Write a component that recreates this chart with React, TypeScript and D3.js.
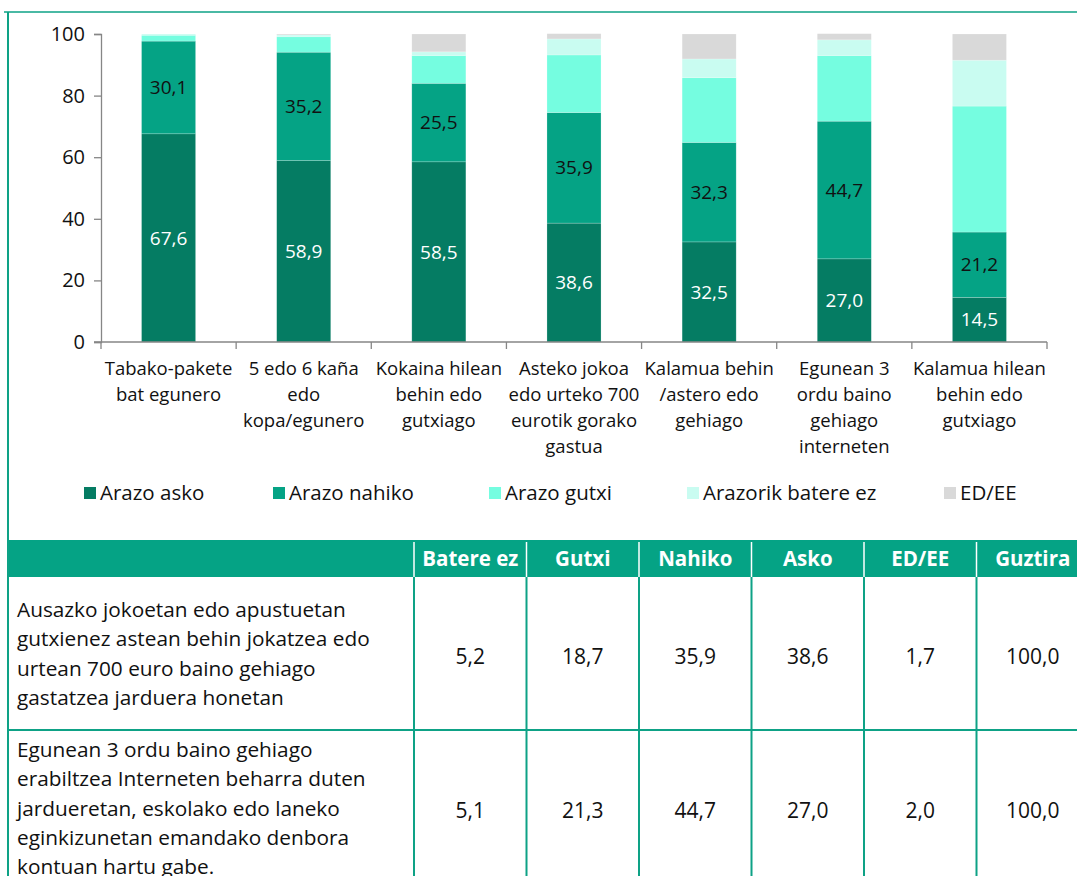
import * as d3 from 'd3';
import { useEffect, useRef } from 'react';

// Chart data
const categories = [
  ['Tabako-pakete', 'bat egunero'],
  ['5 edo 6 kaña', 'edo', 'kopa/egunero'],
  ['Kokaina hilean', 'behin edo', 'gutxiago'],
  ['Asteko jokoa', 'edo urteko 700', 'eurotik gorako', 'gastua'],
  ['Kalamua behin', '/astero edo', 'gehiago'],
  ['Egunean 3', 'ordu baino', 'gehiago', 'interneten'],
  ['Kalamua hilean', 'behin edo', 'gutxiago'],
];
const arazoAsko = [67.6, 58.9, 58.5, 38.6, 32.5, 27.0, 14.5];
const arazoNahiko = [30.1, 35.2, 25.5, 35.9, 32.3, 44.7, 21.2];
const arazoGutxi = [1.9, 5.0, 9.0, 18.7, 21.0, 21.3, 40.9];
const arazorikBatereEz = [0.4, 0.6, 1.2, 5.2, 6.1, 5.1, 14.9];
const edEe = [0.0, 0.3, 5.8, 1.7, 8.1, 2.0, 8.5];
const seriesNames = ['Arazo asko', 'Arazo nahiko', 'Arazo gutxi', 'Arazorik batere ez', 'ED/EE'];
const yTicks = [0, 20, 40, 60, 80, 100];

// Table data
const tableHeaders = ['Batere ez', 'Gutxi', 'Nahiko', 'Asko', 'ED/EE', 'Guztira'];
const tableRowLabels = [
  ['Ausazko jokoetan edo apustuetan', 'gutxienez astean behin jokatzea edo', 'urtean 700 euro baino gehiago', 'gastatzea jarduera honetan'],
  ['Egunean 3 ordu baino gehiago', 'erabiltzea Interneten beharra duten', 'jardueretan, eskolako edo laneko', 'eginkizunetan emandako denbora', 'kontuan hartu gabe.'],
];
const tableGambling = [5.2, 18.7, 35.9, 38.6, 1.7, 100.0];
const tableInternet = [5.1, 21.3, 44.7, 27.0, 2.0, 100.0];

const colors = ['#057c63', '#05a385', '#75fde0', '#c9fcf1', '#d9d9d9'];
const teal = '#0ea286';
const FONT = '"Open Sans", Lato, sans-serif';

export default function App() {
  const svgCur = useRef(null);

  useEffect(() => {
    if (!svgCur.current) return;
    const width = 1077;
    const height = 876;
    const svg = d3.select(svgCur.current).attr('width', width).attr('height', height);
    svg.selectAll('*').remove();

    const fmt = (v: number) => d3.format('.1f')(v).replace('.', ',');

    // frame
    svg.append('line').attr('x1', 4).attr('x2', width).attr('y1', 12).attr('y2', 12)
      .attr('stroke', teal).attr('stroke-width', 1.5);
    svg.append('line').attr('x1', 8).attr('x2', 8).attr('y1', 12).attr('y2', height)
      .attr('stroke', teal).attr('stroke-width', 2);

    // scales
    const x = d3.scaleBand().domain(d3.range(categories.length).map(String))
      .range([101, 1047]).paddingInner(0.6).paddingOuter(0.3);
    const y = d3.scaleLinear().domain([0, 100]).range([342, 34]);

    const rows = categories.map((_, i) => ({
      i: String(i),
      s0: arazoAsko[i], s1: arazoNahiko[i], s2: arazoGutxi[i], s3: arazorikBatereEz[i], s4: edEe[i],
    }));
    const stacked = d3.stack().keys(['s0', 's1', 's2', 's3', 's4'])(rows as any);

    const g = svg.append('g');
    stacked.forEach((layer, k) => {
      g.append('g').selectAll('rect').data(layer).join('rect')
        .attr('x', (d: any) => x(d.data.i))
        .attr('width', x.bandwidth())
        .attr('y', (d: any) => y(d[1]))
        .attr('height', (d: any) => Math.max(0, y(d[0]) - y(d[1])))
        .attr('fill', colors[k])
        .attr('stroke', '#ffffff').attr('stroke-opacity', 0.35).attr('stroke-width', 0.6);
    });

    // value labels on the two darkest segments
    [0, 1].forEach((k) => {
      g.append('g').selectAll('text').data(stacked[k]).join('text')
        .attr('x', (d: any) => x(d.data.i) + x.bandwidth() / 2)
        .attr('y', (d: any) => y((d[0] + d[1]) / 2))
        .attr('dy', '0.35em')
        .attr('text-anchor', 'middle')
        .attr('font-family', FONT).attr('font-size', 19)
        .attr('fill', k === 0 ? '#ffffff' : '#111111')
        .text((d: any) => fmt(d[1] - d[0]));
    });

    // y axis
    const yAxis = d3.axisLeft(y).tickValues(yTicks).tickSize(7).tickPadding(9).tickFormat(d3.format('d'));
    svg.append('g').attr('transform', 'translate(101,0)').call(yAxis)
      .call((a) => a.select('.domain').attr('stroke', '#868686').attr('stroke-width', 1.3))
      .call((a) => a.selectAll('line').attr('stroke', '#868686').attr('stroke-width', 1.3))
      .call((a) => a.selectAll('text').attr('font-family', FONT).attr('font-size', 20).attr('fill', '#111'));

    // x axis line and boundary ticks
    const xAxisG = svg.append('g');
    xAxisG.append('line').attr('x1', 94).attr('x2', 1047).attr('y1', 342).attr('y2', 342)
      .attr('stroke', '#868686').attr('stroke-width', 1.3);
    const step = x.step();
    xAxisG.selectAll('.tk').data(d3.range(categories.length + 1)).join('line')
      .attr('x1', (d) => 101 + d * step).attr('x2', (d) => 101 + d * step)
      .attr('y1', 342).attr('y2', 349)
      .attr('stroke', '#868686').attr('stroke-width', 1.3);

    // category labels
    categories.forEach((lines, i) => {
      const t = svg.append('text').attr('text-anchor', 'middle')
        .attr('font-family', FONT).attr('font-size', 18.5).attr('fill', '#111');
      lines.forEach((ln, j) => {
        t.append('tspan').attr('x', x(String(i)) + x.bandwidth() / 2)
          .attr('y', 375 + j * 26).text(ln);
      });
    });

    // legend
    const legendX = [84, 273, 489, 687, 944];
    seriesNames.forEach((name, k) => {
      svg.append('rect').attr('x', legendX[k]).attr('y', 487).attr('width', 12).attr('height', 12)
        .attr('fill', colors[k]);
      svg.append('text').attr('x', legendX[k] + 16).attr('y', 493).attr('dy', '0.35em')
        .attr('font-family', FONT).attr('font-size', 20.5).attr('fill', '#111').text(name);
    });

    // table
    const colX = d3.scaleBand().domain(tableHeaders).range([414, 1089]);
    const headerTop = 540;
    const headerBottom = 577;
    const rowBottom = 730;
    svg.append('rect').attr('x', 9).attr('y', headerTop).attr('width', width - 9)
      .attr('height', headerBottom - headerTop).attr('fill', '#05a385');
    tableHeaders.forEach((h) => {
      svg.append('line').attr('x1', colX(h)).attr('x2', colX(h)).attr('y1', headerTop + 2).attr('y2', headerBottom)
        .attr('stroke', '#ffffff').attr('stroke-width', 1.5);
      svg.append('text').attr('x', colX(h) + colX.bandwidth() / 2).attr('y', (headerTop + headerBottom) / 2)
        .attr('dy', '0.35em').attr('text-anchor', 'middle')
        .attr('font-family', FONT).attr('font-size', 20.5).attr('font-weight', 'bold')
        .attr('fill', '#ffffff').text(h);
    });

    // body grid
    tableHeaders.forEach((h) => {
      svg.append('line').attr('x1', colX(h)).attr('x2', colX(h)).attr('y1', headerBottom).attr('y2', height)
        .attr('stroke', teal).attr('stroke-width', 2);
    });
    svg.append('line').attr('x1', 8).attr('x2', width).attr('y1', rowBottom).attr('y2', rowBottom)
      .attr('stroke', teal).attr('stroke-width', 2);

    const bodyRows = [tableGambling, tableInternet];
    bodyRows.forEach((vals, r) => {
      const t = svg.append('text').attr('font-family', FONT).attr('font-size', 20.8).attr('fill', '#111');
      const firstY = r === 0 ? 610 : 750;
      tableRowLabels[r].forEach((ln, j) => {
        t.append('tspan').attr('x', 17).attr('y', firstY + j * 29.2).attr('dy', '0.35em').text(ln);
      });
      const cy = r === 0 ? 657 : 811;
      vals.forEach((v, c) => {
        svg.append('text').attr('x', colX(tableHeaders[c]) + colX.bandwidth() / 2).attr('y', cy)
          .attr('dy', '0.35em').attr('text-anchor', 'middle')
          .attr('font-family', FONT).attr('font-size', 21).attr('fill', '#111').text(fmt(v));
      });
    });
  }, []);

  return (
    <div style={{ position: 'absolute', left: 0, top: 0, background: '#fff' }}>
      <svg ref={svgCur} style={{ display: 'block' }}></svg>
    </div>
  );
}
